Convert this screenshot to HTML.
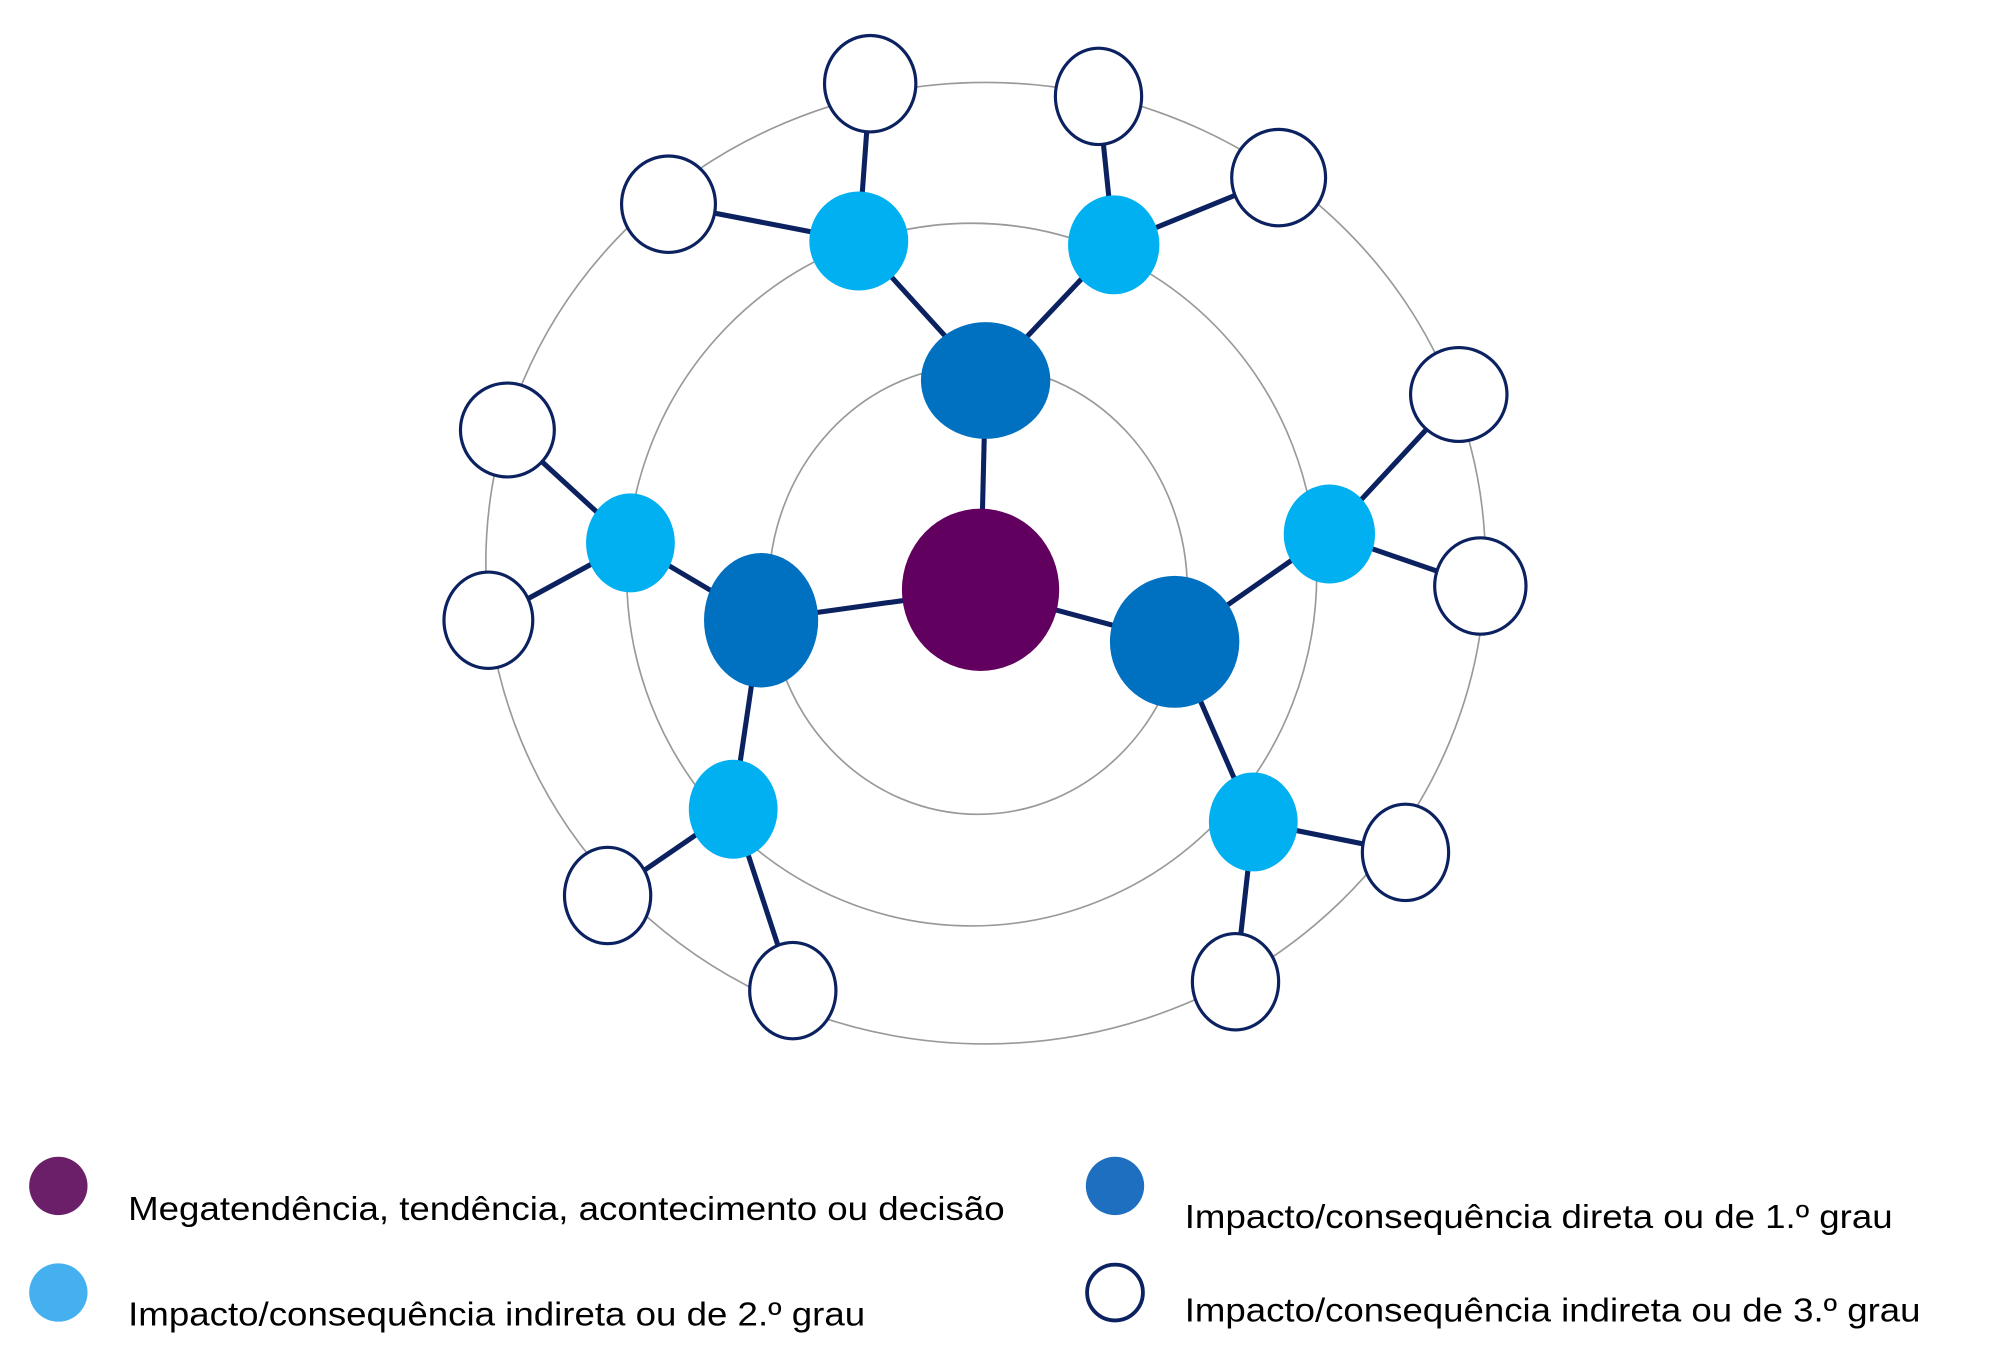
<!DOCTYPE html>
<html><head><meta charset="utf-8"><style>html,body{margin:0;padding:0;background:#fff}svg{display:block}</style></head>
<body>
<svg width="1989" height="1361" viewBox="0 0 1568 1073" preserveAspectRatio="none" xmlns="http://www.w3.org/2000/svg" font-family="Liberation Sans, sans-serif">
<g fill="none" stroke="#999" stroke-width="1.3">
<ellipse cx="771" cy="465" rx="165" ry="177"/>
<ellipse cx="766" cy="453" rx="272" ry="277"/>
<ellipse cx="777" cy="444" rx="394" ry="379"/>
</g>
<g stroke="#0b2160" stroke-width="4" stroke-linecap="round">
<line x1="773" y1="465" x2="777" y2="300"/>
<line x1="773" y1="465" x2="600" y2="489"/>
<line x1="773" y1="465" x2="926" y2="506"/>
<line x1="777" y1="300" x2="677" y2="190"/>
<line x1="777" y1="300" x2="878" y2="193"/>
<line x1="600" y1="489" x2="497" y2="428"/>
<line x1="600" y1="489" x2="578" y2="638"/>
<line x1="926" y1="506" x2="1048" y2="421"/>
<line x1="926" y1="506" x2="988" y2="648"/>
<line x1="677" y1="190" x2="686" y2="66"/>
<line x1="677" y1="190" x2="527" y2="161"/>
<line x1="878" y1="193" x2="866" y2="76"/>
<line x1="878" y1="193" x2="1008" y2="140"/>
<line x1="497" y1="428" x2="400" y2="339"/>
<line x1="497" y1="428" x2="385" y2="489"/>
<line x1="1048" y1="421" x2="1150" y2="311"/>
<line x1="1048" y1="421" x2="1167" y2="462"/>
<line x1="578" y1="638" x2="479" y2="706"/>
<line x1="578" y1="638" x2="625" y2="781"/>
<line x1="988" y1="648" x2="974" y2="774"/>
<line x1="988" y1="648" x2="1108" y2="672"/>
</g>
<ellipse cx="773" cy="465" rx="62" ry="64" fill="#620060"/>
<g fill="#0070c0">
<ellipse cx="777" cy="300" rx="51" ry="46"/>
<ellipse cx="600" cy="489" rx="45" ry="53"/>
<ellipse cx="926" cy="506" rx="51" ry="52"/>
</g>
<g fill="#00b0f0">
<ellipse cx="677" cy="190" rx="39" ry="39"/>
<ellipse cx="878" cy="193" rx="36" ry="39"/>
<ellipse cx="497" cy="428" rx="35" ry="39"/>
<ellipse cx="1048" cy="421" rx="36" ry="39"/>
<ellipse cx="578" cy="638" rx="35" ry="39"/>
<ellipse cx="988" cy="648" rx="35" ry="39"/>
</g>
<g fill="#fff" stroke="#0b2160" stroke-width="2.5">
<ellipse cx="686" cy="66" rx="36" ry="38"/>
<ellipse cx="866" cy="76" rx="34" ry="38"/>
<ellipse cx="527" cy="161" rx="37" ry="38"/>
<ellipse cx="1008" cy="140" rx="37" ry="38"/>
<ellipse cx="400" cy="339" rx="37" ry="37"/>
<ellipse cx="385" cy="489" rx="35" ry="38"/>
<ellipse cx="1150" cy="311" rx="38" ry="37"/>
<ellipse cx="1167" cy="462" rx="36" ry="38"/>
<ellipse cx="479" cy="706" rx="34" ry="38"/>
<ellipse cx="625" cy="781" rx="34" ry="38"/>
<ellipse cx="974" cy="774" rx="34" ry="38"/>
<ellipse cx="1108" cy="672" rx="34" ry="38"/>
</g>
<circle cx="46" cy="935" r="23" fill="#6a1f68"/>
<circle cx="879" cy="935" r="23" fill="#1f6fc0"/>
<circle cx="46" cy="1019" r="23" fill="#45b0f0"/>
<circle cx="879" cy="1019" r="22" fill="#fff" stroke="#0b2160" stroke-width="3"/>
<g font-size="26" fill="#000">
<text x="101" y="962" textLength="691" lengthAdjust="spacingAndGlyphs">Megatendência, tendência, acontecimento ou decisão</text>
<text x="934" y="968" textLength="558" lengthAdjust="spacingAndGlyphs">Impacto/consequência direta ou de 1.º grau</text>
<text x="101" y="1045" textLength="581" lengthAdjust="spacingAndGlyphs">Impacto/consequência indireta ou de 2.º grau</text>
<text x="934" y="1042" textLength="580" lengthAdjust="spacingAndGlyphs">Impacto/consequência indireta ou de 3.º grau</text>
</g>
</svg>
</body></html>
